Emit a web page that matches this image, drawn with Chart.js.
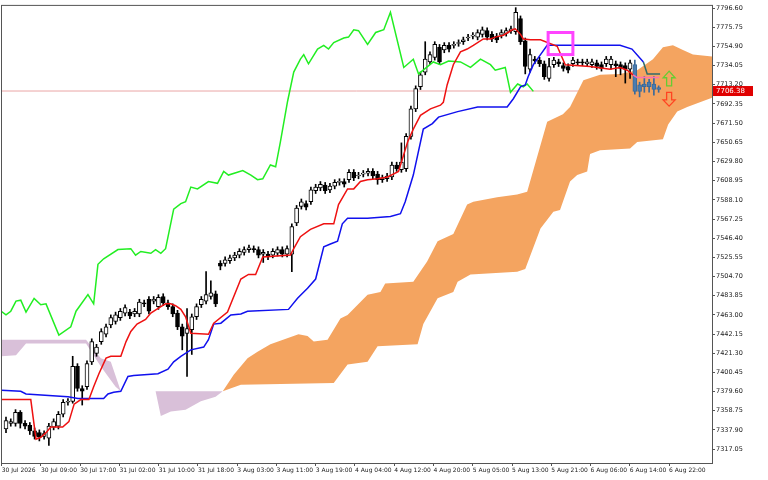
<!DOCTYPE html>
<html><head><meta charset="utf-8">
<script src="https://cdn.jsdelivr.net/npm/chart.js@4"></script>
<style>html,body{margin:0;padding:0;background:#fff}#w{width:768px;height:480px}</style>
</head><body><div id="w"><canvas id="c"></canvas></div>
<script>
const timeLabels=["30 Jul 2026","30 Jul 09:00","30 Jul 17:00","31 Jul 02:00","31 Jul 10:00","31 Jul 18:00","3 Aug 03:00","3 Aug 11:00","3 Aug 19:00","4 Aug 04:00","4 Aug 12:00","4 Aug 20:00","5 Aug 05:00","5 Aug 13:00","5 Aug 21:00","6 Aug 06:00","6 Aug 14:00","6 Aug 22:00"];
const priceTicks=[7796.60,7775.75,7754.90,7734.05,7713.20,7692.35,7671.50,7650.65,7629.80,7608.95,7588.10,7567.25,7546.40,7525.55,7504.70,7483.85,7463.00,7442.15,7421.30,7400.45,7379.60,7358.75,7337.90,7317.05];
const lastPrice=7706.38;
const openP=[7339,7345,7345,7357,7345,7343,7337,7335,7331,7329,7341,7342,7355,7368,7369,7407,7383,7385,7412,7421,7434,7442,7452,7456,7460,7465,7466,7464,7464,7476,7480,7478,7472,7483,7476,7472,7465,7450,7443,7447,7461,7474,7478,7483,7486,7519,7519,7522,7525,7528,7531,7534,7535,7534,7529,7529,7528,7530,7534,7529,7529,7563,7581,7584,7586,7598,7601,7604,7599,7603,7607,7608,7610,7618,7614,7616,7617,7619,7616,7610,7611,7613,7626,7621,7622,7657,7687,7711,7727,7738,7743,7754,7751,7756,7756,7758,7760,7764,7766,7765,7768,7772,7768,7766,7767,7769,7772,7771,7785,7761,7730,7741,7740,7736,7720,7735,7738,7734,7733,7736,7738,7738,7736,7735,7737,7735,7736,7735,7736,7735,7734,7730,7735,7713,7711,7716,7714,7710];
const closeP=[7348,7347,7357,7345,7342,7337,7331,7330,7334,7342,7347,7355,7368,7369,7407,7383,7380,7410,7434,7428,7445,7450,7460,7463,7467,7471,7462,7467,7477,7475,7467,7480,7482,7476,7472,7464,7450,7440,7448,7461,7472,7480,7485,7487,7475,7516,7523,7525,7528,7532,7534,7536,7534,7528,7531,7526,7532,7534,7529,7535,7559,7579,7586,7580,7599,7602,7605,7598,7603,7607,7608,7605,7618,7612,7615,7617,7619,7614,7610,7612,7614,7626,7622,7629,7657,7687,7709,7724,7741,7746,7757,7738,7756,7752,7757,7759,7762,7765,7767,7770,7773,7765,7763,7762,7770,7772,7774,7792,7760,7733,7746,7739,7736,7722,7733,7740,7736,7731,7729,7740,7737,7737,7738,7738,7733,7731,7741,7741,7734,7731,7730,7737,7706,7706,7714,7711,7708,7708];
const highP=[7352,7350,7360,7359,7348,7346,7340,7338,7337,7345,7350,7358,7371,7372,7418,7410,7386,7413,7437,7431,7448,7453,7463,7466,7470,7474,7469,7470,7480,7479,7483,7483,7485,7486,7479,7475,7468,7453,7470,7464,7475,7483,7510,7500,7489,7522,7526,7528,7531,7535,7537,7539,7538,7537,7534,7532,7535,7537,7537,7538,7562,7582,7589,7587,7602,7605,7608,7607,7606,7610,7611,7611,7621,7621,7618,7620,7622,7622,7619,7615,7617,7629,7629,7650,7660,7690,7712,7727,7760,7749,7760,7757,7759,7759,7760,7762,7765,7768,7770,7773,7776,7775,7771,7769,7773,7775,7777,7797,7788,7764,7752,7744,7743,7739,7742,7743,7741,7737,7736,7743,7741,7741,7741,7741,7740,7738,7744,7744,7739,7738,7737,7740,7740,7716,7722,7719,7722,7712];
const lowP=[7335,7342,7342,7340,7339,7333,7328,7326,7328,7321,7338,7339,7352,7365,7367,7380,7365,7382,7409,7418,7431,7439,7449,7453,7457,7462,7459,7461,7461,7472,7464,7475,7469,7473,7469,7461,7447,7425,7396,7420,7458,7471,7475,7480,7472,7512,7516,7519,7522,7525,7528,7531,7531,7525,7520,7523,7525,7527,7526,7526,7510,7560,7578,7577,7583,7595,7598,7595,7596,7600,7604,7602,7607,7609,7611,7613,7614,7611,7605,7607,7608,7610,7619,7618,7619,7654,7684,7708,7724,7735,7740,7735,7748,7749,7753,7755,7757,7761,7763,7762,7765,7762,7760,7759,7764,7766,7769,7768,7757,7725,7727,7736,7733,7719,7717,7732,7733,7728,7726,7733,7734,7734,7733,7732,7730,7728,7733,7730,7722,7724,7715,7720,7703,7700,7705,7705,7702,7705];
const tenkanX=[-1,5.2,6.3,7.3,8.4,9.4,11.9,13.2,14.3,15.7,17.4,18.4,19.5,21,22,24.1,25.2,26.2,27.5,29.3,30.4,32.5,33.5,34.6,35.6,36.7,37.7,38.8,42.5,43.6,46.5,49.3,50.9,52.4,53.9,59.7,60.4,61.8,63.9,66.7,68.8,69.8,71.7,73,74.4,75.9,78,80.1,82.4,84.3,85.5,87,89.1,91.2,91.8,92.6,93.9,95.4,96.8,98.1,100.2,101.7,102.7,104.4,106.3,106.9,108,108.6,110.1,112.2,115.7,117.4,122.6,126.8,128.9,130.4,131.6];
const tenkanV=[7371,7371,7328,7330,7335,7341,7341,7347,7366,7371,7371,7385,7399,7416,7418,7418,7434,7445,7453,7458,7465,7472,7475,7475,7473,7469,7461,7443,7442,7454,7466,7502,7507,7507,7526,7528,7535,7548,7556,7562,7562,7583,7600,7600,7608,7610,7611,7613,7619,7651,7665,7680,7687,7691,7694,7713,7735,7749,7752,7756,7763,7763,7765,7767,7773,7774,7768,7763,7762,7762,7755,7735,7733,7730,7732,7729,7724];
const tenkanTailX=[131.6,132.5,137.1];
const tenkanTailV=[7724,7721,7721];
const kijunX=[-1,3.1,4.2,13,15.1,20.5,21.4,22.6,24.1,25.6,26.8,31.9,34,35.2,36.7,38.8,41.5,42.5,43.6,45.1,47.2,49.3,50.7,59.3,61.2,63.3,65,66.7,68.1,69.6,70.6,71.7,75.9,80.7,82.8,83.8,85.5,87.6,89.5,90.8,94.8,99,105.2,106.5,108,109,109.6,110.7,112.2,113.6,128.9,131.4,133.8];
const kijunV=[7381,7380,7377,7374,7372,7372,7377,7379,7380,7396,7397,7399,7404,7412,7418,7425,7428,7436,7453,7454,7463,7464,7467,7469,7481,7492,7502,7537,7540,7543,7562,7568,7568,7570,7573,7586,7615,7665,7671,7678,7684,7689,7689,7698,7711,7713,7722,7735,7746,7756,7756,7752,7738];
const kijunTailX=[133.8,134.6,137.3];
const kijunTailV=[7738,7725,7725];
const chikouX=[-1,0,1,2.1,3.1,4.2,5.9,7.3,8.4,11.1,13.6,14.7,17.2,18.4,19.3,20.5,23.5,26.2,27.2,28.3,30.4,31.4,32.5,33.5,35.2,36.7,37.7,38.8,40.2,42.5,44.4,45.7,46.7,49.7,51.4,52.8,53.9,55.5,56.6,57.6,59.1,60.4,61.8,62.5,63.5,65.4,66.7,67.7,68.8,70.9,71.9,73,74,75.9,77.6,79.3,80.7,83.5,85.5,86.6,89.7,91.2,92.9,95.4,97.5,99.6,101.7,102.7,104.8,105.9,107.4,108.6,109.4,110.7];
const chikouV=[7467,7463,7467,7478,7479,7466,7481,7474,7475,7441,7450,7467,7485,7475,7518,7524,7534,7535,7528,7532,7530,7534,7530,7535,7578,7584,7586,7602,7600,7608,7606,7619,7615,7620,7615,7610,7611,7626,7624,7651,7695,7727,7741,7746,7736,7752,7756,7752,7759,7764,7765,7773,7772,7757,7770,7773,7792,7732,7741,7725,7738,7735,7739,7738,7732,7741,7735,7729,7732,7705,7714,7711,7714,7706];
const cloudTopX=[45.5,47.8,50.7,52.8,55.5,61.4,63.3,64.6,67.5,70.2,71.7,75.9,78.6,79.6,85.5,88.4,90.6,93.9,96.8,98.1,103.1,107.3,109.4,113.6,116.9,118.4,121.2,124.7,128.9,132.5,135.8,137.9,140,142.1,144.2,148.2];
const cloudTopV=[7380,7398,7416,7423,7431,7442,7440,7434,7436,7459,7463,7485,7488,7497,7499,7521,7543,7551,7583,7586,7591,7594,7597,7673,7681,7689,7718,7724,7725,7729,7741,7754,7756,7751,7746,7744];
const cloudBotX=[45.5,49.3,68.8,71.7,75.9,78,86.4,87.6,90.6,93.9,94.8,97.5,107.3,109,112.2,114.9,116.3,118.4,119.9,122,122.6,124.7,131,132.5,137.9,139,140.9,143,148.2];
const cloudBotV=[7380,7387,7389,7409,7412,7429,7431,7453,7481,7488,7499,7507,7510,7513,7557,7575,7577,7608,7615,7619,7638,7642,7644,7651,7654,7670,7684,7689,7699];
const oldTopX=[-1,16.8,19.9,22,24.1,45.5];
const oldTopV=[7436,7436,7416,7412,7380,7380];
const oldBotX=[-1,2.1,4.2,16.8,19.9,23,24.1,31.4,32.5,34.6,37.7,40.9,44,45.5];
const oldBotV=[7418,7419,7432,7432,7407,7385,7380,7380,7353,7358,7360,7369,7374,7380];

const pts=(xs,vs)=>xs.map((x,i)=>({x:x,y:vs[i]}));
const n=openP.length;
const bodyColors=openP.map((o,i)=>i>=n-6?'#4a7cb0':(closeP[i]>=o?'#ffffff':'#000000'));
const borderColors=openP.map((o,i)=>i>=n-6?'#3a6a9a':'#000000');
const line=(d,color,w)=>({type:'line',data:d,borderColor:color,borderWidth:w||1.5,pointRadius:0,tension:0,fill:false});

const overlay={id:'overlay',
 beforeDatasetsDraw(ch){const {ctx,chartArea:a,scales:{y}}=ch;const py=y.getPixelForValue(lastPrice);
  ctx.save();ctx.strokeStyle='#eaa5a5';ctx.lineWidth=1;ctx.beginPath();ctx.moveTo(a.left,py);ctx.lineTo(a.right,py);ctx.stroke();ctx.restore();},
 afterDraw(ch){const {ctx,chartArea:a,scales:{x,y}}=ch;ctx.save();
  ctx.strokeStyle='#555';ctx.lineWidth=1;ctx.strokeRect(a.left+0.5,a.top+0.5,a.right-a.left,a.bottom-a.top);
  const x1=x.getPixelForValue(113.8),x2=x.getPixelForValue(119),y1=y.getPixelForValue(7770),y2=y.getPixelForValue(7746);
  ctx.strokeStyle='#ff44ff';ctx.lineWidth=3;ctx.strokeRect(x1,y1,x2-x1,y2-y1);
  const ax=x.getPixelForValue(139.2);
  const arrow=(top,bot,up,col)=>{const t=y.getPixelForValue(top),b=y.getPixelForValue(bot);const h=b-t;ctx.strokeStyle=col;ctx.lineWidth=1.3;ctx.beginPath();
   if(up){ctx.moveTo(ax,t);ctx.lineTo(ax+6,t+h*0.45);ctx.lineTo(ax+2.5,t+h*0.45);ctx.lineTo(ax+2.5,b);ctx.lineTo(ax-2.5,b);ctx.lineTo(ax-2.5,t+h*0.45);ctx.lineTo(ax-6,t+h*0.45);}
   else{ctx.moveTo(ax,b);ctx.lineTo(ax+6,b-h*0.45);ctx.lineTo(ax+2.5,b-h*0.45);ctx.lineTo(ax+2.5,t);ctx.lineTo(ax-2.5,t);ctx.lineTo(ax-2.5,b-h*0.45);ctx.lineTo(ax-6,b-h*0.45);}
   ctx.closePath();ctx.stroke();};
  arrow(7728,7712,true,'#66cc33');arrow(7705,7690,false,'#ff4422');
  const py=y.getPixelForValue(lastPrice);ctx.fillStyle='#e00000';ctx.fillRect(a.right+1,py-5,40,10);
  ctx.fillStyle='#fff';ctx.font='7px "DejaVu Sans"';ctx.textBaseline='middle';ctx.textAlign='left';ctx.fillText(lastPrice.toFixed(2),a.right+4,py+0.5);
  ctx.restore();}};

new Chart(document.getElementById('c'),{
 data:{datasets:[
  {type:'line',data:pts(oldTopX,oldTopV),borderWidth:0,pointRadius:0,tension:0,fill:false,order:20},
  {type:'line',data:pts(oldBotX,oldBotV),borderWidth:0,pointRadius:0,tension:0,fill:'-1',backgroundColor:'#d9c0d9',order:19},
  {type:'line',data:pts(cloudTopX,cloudTopV),borderWidth:0,pointRadius:0,tension:0,fill:false,order:18},
  {type:'line',data:pts(cloudBotX,cloudBotV),borderWidth:0,pointRadius:0,tension:0,fill:'-1',backgroundColor:'#f4a460',order:17},
  {type:'bar',data:openP.map((o,i)=>({x:i,y:[lowP[i],highP[i]]})),backgroundColor:borderColors,barThickness:1,grouped:false,order:10},
  {type:'bar',data:openP.map((o,i)=>({x:i,y:[o,closeP[i]]})),backgroundColor:bodyColors,borderColor:borderColors,borderWidth:1,borderSkipped:false,barThickness:4,minBarLength:1,grouped:false,order:9},
  Object.assign(line(pts(chikouX,chikouV),'#22ee22'),{order:5}),
  Object.assign(line(pts(kijunX,kijunV),'#1010ee'),{order:4}),
  Object.assign(line(pts(kijunTailX,kijunTailV),'#2f6b6b'),{order:4}),
  Object.assign(line(pts(tenkanX,tenkanV),'#ee1111'),{order:3}),
  Object.assign(line(pts(tenkanTailX,tenkanTailV),'#ff6fae'),{order:3})
 ]},
 options:{responsive:true,maintainAspectRatio:false,animation:false,
  layout:{padding:{top:3,left:1,right:0,bottom:0}},
  plugins:{legend:{display:false},tooltip:{enabled:false}},
  scales:{
   x:{type:'linear',min:-1.05,max:148.2,offset:false,
    afterBuildTicks(s){s.ticks=timeLabels.map((l,k)=>({value:-0.9+k*8.24}));},
    afterFit(s){s.height=17;},
    grid:{drawOnChartArea:false,tickLength:3,color:'#555',offset:false},border:{display:false},
    ticks:{align:'start',maxRotation:0,autoSkip:false,padding:1,color:'#222',font:{size:6,family:'DejaVu Sans'},callback:(v,i)=>timeLabels[i]}},
   y:{position:'right',min:7302,max:7800,
    afterBuildTicks(s){s.ticks=priceTicks.map(v=>({value:v}));},
    afterFit(s){s.width=56;},
    grid:{drawOnChartArea:false,tickLength:3,color:'#555'},border:{display:false},
    ticks:{padding:1,color:'#222',font:{size:6.5,family:'DejaVu Sans'},callback:v=>v.toFixed(2)}}
  }},
 plugins:[overlay]});
</script></body></html>
